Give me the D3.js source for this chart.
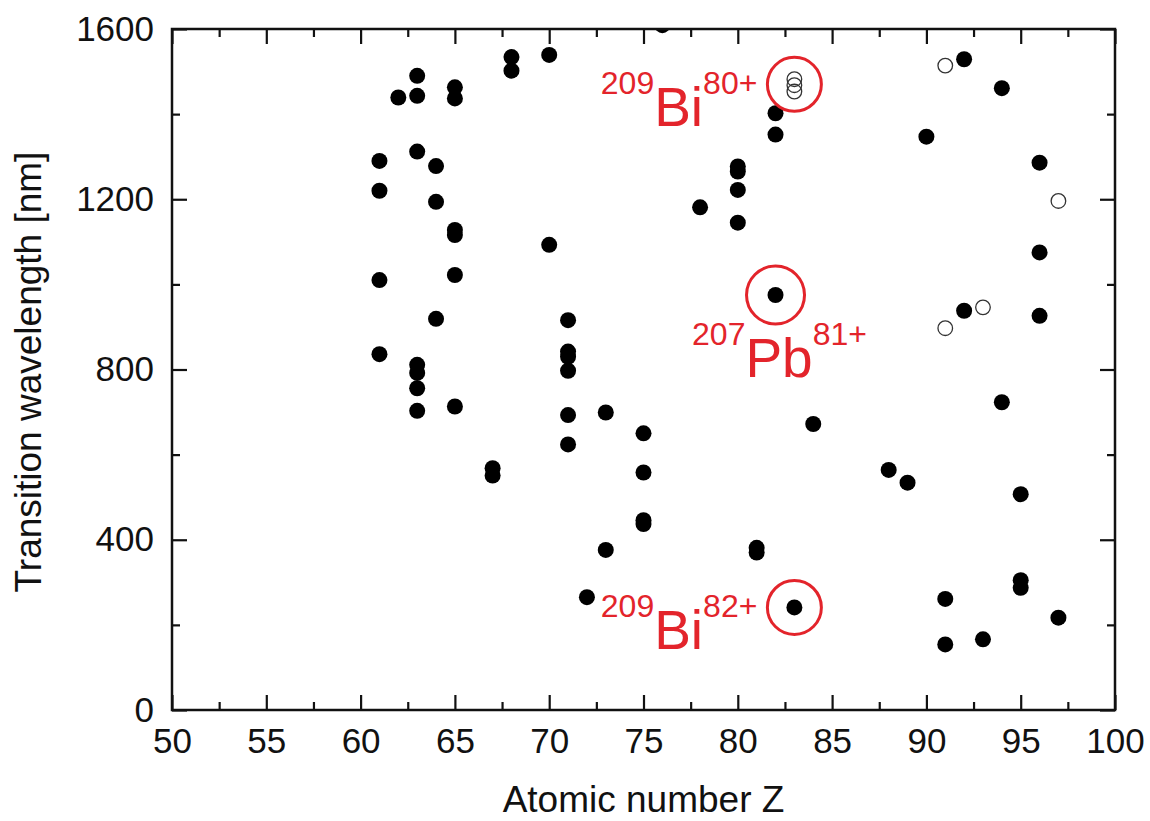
<!DOCTYPE html>
<html>
<head>
<meta charset="utf-8">
<style>
  body { margin: 0; background: #fff; }
  text { font-family: "Liberation Sans", Arial, sans-serif; }
  .axis text { font-size: 35px; fill: #111; }
  .axis line { stroke: #111; stroke-width: 2.2px; }
  .title { font-size: 37px; fill: #111; }
  .note { fill: #e3242b; }
</style>
</head>
<body>
<div id="chart"></div>

<script src="https://cdn.jsdelivr.net/npm/d3@7/dist/d3.min.js"></script>
<script>
// filled circles: atomic number Z and transition wavelength (nm)
const filledZ  = [61, 61, 61, 61, 62, 63, 63, 63, 63, 63, 63, 63, 64, 64, 64,
                  65, 65, 65, 65, 65, 65, 67, 67, 68, 68, 70, 70,
                  71, 71, 71, 71, 71, 71, 72, 73, 73, 75, 75, 75, 75,
                  76, 78, 80, 80, 80, 80, 81, 81, 82, 82, 82, 83, 84,
                  88, 89, 90, 91, 91, 92, 92, 93, 94, 94, 95, 95, 95,
                  96, 96, 96, 97];
const filledWl = [1290, 1220, 1010, 836, 1439, 1490, 1443, 1312, 811, 792, 756, 703, 1278, 1194, 919,
                  1463, 1437, 1128, 1116, 1022, 713, 568, 551, 1534, 1502, 1539, 1093,
                  916, 842, 830, 797, 693, 624, 265, 699, 376, 650, 558, 446, 437,
                  1609, 1181, 1277, 1265, 1222, 1145, 381, 370, 1402, 1352, 975, 241, 672,
                  564, 534, 1347, 261, 154, 1529, 938, 166, 1461, 723, 507, 305, 287,
                  1286, 1075, 926, 217];

// open circles
const openZ  = [83, 83, 83, 91, 91, 93, 97];
const openWl = [1482, 1468, 1453, 1514, 897, 946, 1196];

const xTicks = [50, 55, 60, 65, 70, 75, 80, 85, 90, 95, 100];
const xMinor = [52.5, 57.5, 62.5, 67.5, 72.5, 77.5, 82.5, 87.5, 92.5, 97.5];
const yTicks = [0, 400, 800, 1200, 1600];
const yMinor = [200, 600, 1000, 1400];

// highlighted ions
const noteIso    = ["209", "207", "209"];
const noteEl     = ["Bi", "Pb", "Bi"];
const noteCharge = ["80+", "81+", "82+"];
const noteZ      = [83, 82, 83];
const noteWl     = [1470, 975, 241];

const W = 1150, H = 821;
const m = {top: 29, right: 35, bottom: 111, left: 172};
const iw = W - m.left - m.right, ih = H - m.top - m.bottom;

const svg = d3.select("#chart").append("svg")
    .attr("width", W).attr("height", H);
const g = svg.append("g").attr("transform", `translate(${m.left},${m.top})`);

const x = d3.scaleLinear().domain([50, 100]).range([0, iw]);
const y = d3.scaleLinear().domain([0, 1600]).range([ih, 0]);

// inward ticks on all four sides
function ticks(axis, vals, size, fmt) {
    return axis.tickValues(vals).tickSizeInner(-size).tickSizeOuter(0)
        .tickPadding(fmt ? 18 : 0).tickFormat(fmt ? d3.format("d") : "");
}
g.append("g").attr("class", "axis").attr("transform", `translate(0,${ih})`)
    .call(ticks(d3.axisBottom(x), xTicks, 15, true));
g.append("g").attr("class", "axis").attr("transform", `translate(0,${ih})`)
    .call(ticks(d3.axisBottom(x), xMinor, 8, false));
g.append("g").attr("class", "axis")
    .call(ticks(d3.axisTop(x), xTicks, 15, false));
g.append("g").attr("class", "axis")
    .call(ticks(d3.axisTop(x), xMinor, 8, false));
g.append("g").attr("class", "axis")
    .call(ticks(d3.axisLeft(y), yTicks, 15, true));
g.append("g").attr("class", "axis")
    .call(ticks(d3.axisLeft(y), yMinor, 8, false));
g.append("g").attr("class", "axis").attr("transform", `translate(${iw},0)`)
    .call(ticks(d3.axisRight(y), yTicks, 15, false));
g.append("g").attr("class", "axis").attr("transform", `translate(${iw},0)`)
    .call(ticks(d3.axisRight(y), yMinor, 8, false));
g.selectAll(".axis .domain").remove();
g.selectAll(".axis text").filter(function() { return this.textContent === ""; }).remove();

svg.append("defs").append("clipPath").attr("id", "plot")
    .append("rect").attr("width", iw).attr("height", ih);

const dots = g.append("g").attr("clip-path", "url(#plot)");
dots.selectAll("circle.f")
    .data(filledZ.map((z, i) => ({z, wl: filledWl[i]})))
    .join("circle").attr("class", "f")
    .attr("cx", d => x(d.z)).attr("cy", d => y(d.wl))
    .attr("r", 8).attr("fill", "#000");
dots.selectAll("circle.o")
    .data(openZ.map((z, i) => ({z, wl: openWl[i]})))
    .join("circle").attr("class", "o")
    .attr("cx", d => x(d.z)).attr("cy", d => y(d.wl))
    .attr("r", 7.3).attr("fill", "none")
    .attr("stroke", "#333").attr("stroke-width", 1.3);

// frame
g.append("rect").attr("width", iw).attr("height", ih)
    .attr("fill", "none").attr("stroke", "#111").attr("stroke-width", 2.5);

// red highlight circles and labels
const notes = noteZ.map((z, i) => ({
    z, wl: noteWl[i], iso: noteIso[i], el: noteEl[i], q: noteCharge[i], below: noteEl[i] === "Pb"
}));
g.selectAll("circle.ring").data(notes).join("circle").attr("class", "ring")
    .attr("cx", d => x(d.z)).attr("cy", d => y(d.wl))
    .attr("r", d => d.below ? 29 : 27)
    .attr("fill", "none").attr("stroke", "#e3242b").attr("stroke-width", 3);

const lab = g.selectAll("text.note").data(notes).join("text").attr("class", "note")
    .attr("text-anchor", d => d.below ? "middle" : "end")
    .attr("x", d => d.below ? x(d.z) + 4 : x(d.z) - 37)
    .attr("y", d => d.below ? y(d.wl) + 50 : y(d.wl) + 10);
lab.append("tspan").attr("font-size", 32).text(d => d.iso);
lab.append("tspan").attr("font-size", 55).attr("dy", 32).text(d => d.el);
lab.append("tspan").attr("font-size", 32).attr("dy", -32).text(d => d.q);

// axis titles
svg.append("text").attr("class", "title")
    .attr("x", m.left + iw / 2).attr("y", 812)
    .attr("text-anchor", "middle").text("Atomic number Z");
svg.append("text").attr("class", "title")
    .attr("transform", `translate(41,372) rotate(-90)`)
    .attr("text-anchor", "middle").text("Transition wavelength [nm]");
</script>
</body>
</html>
